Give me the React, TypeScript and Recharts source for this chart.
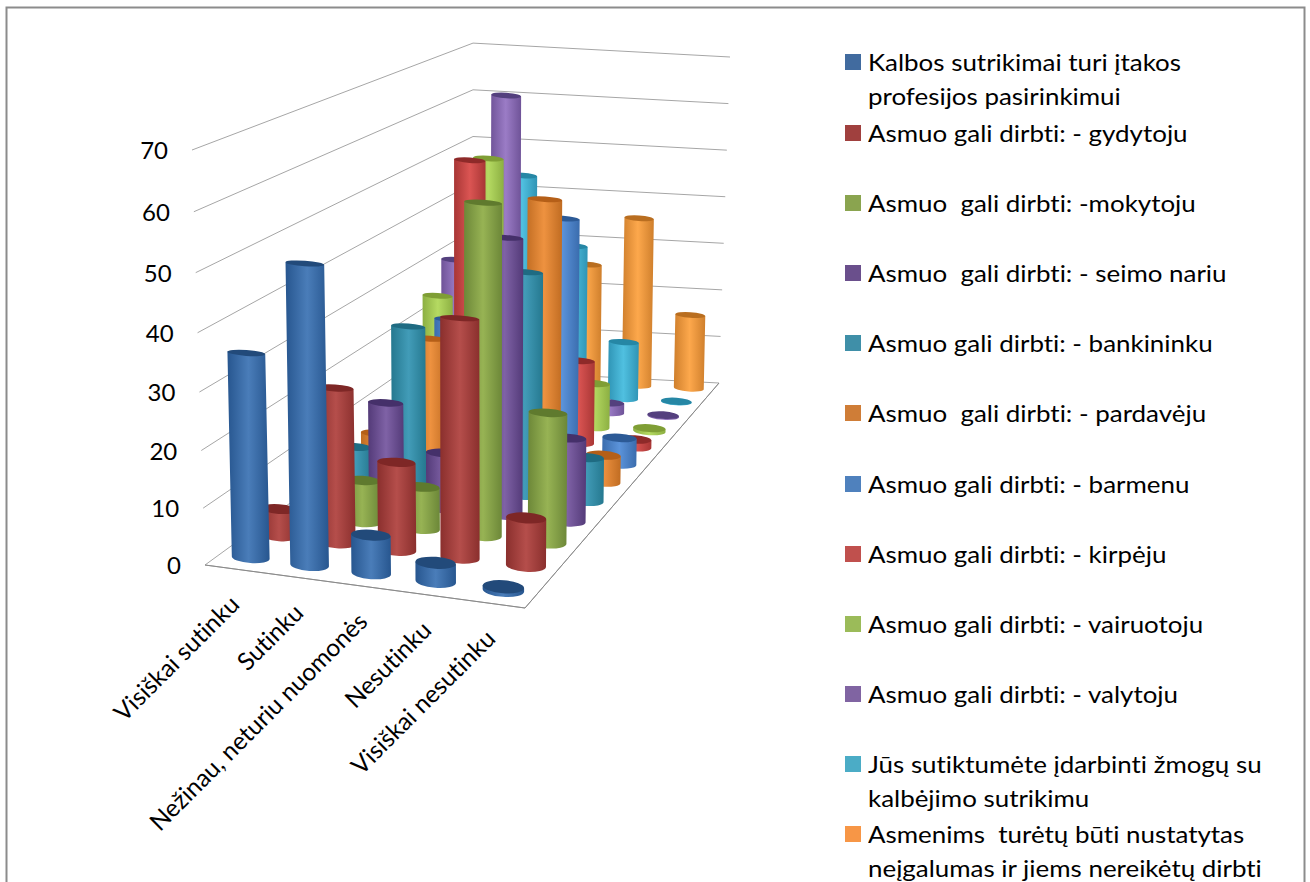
import React from 'react';
import { ComposedChart, Bar, XAxis, YAxis, Legend, Customized } from 'recharts';

const categories = ['Visiškai sutinku', 'Sutinku', 'Nežinau, neturiu nuomonės', 'Nesutinku', 'Visiškai nesutinku'];
const yTicks = [0, 10, 20, 30, 40, 50, 60, 70];

const kalbos = [35, 51.6, 6.5, 3.2, 0.6];
const gydytoju = [4.7, 27, 15.3, 41.7, 8.3];
const mokytoju = [1, 7.4, 7.4, 59, 23];
const seimoNariu = [8, 18, 10, 50, 15];
const bankininku = [5.9, 29, 15, 41, 8];
const pardaveju = [5.4, 24, 20, 52, 5];
const barmenu = [5, 25, 30, 46, 5];
const kirpeju = [6, 53.5, 30, 16, 1.5];
const vairuotoju = [24, 52, 25, 8.7, 0.6];
const valytoju = [29, 63, 20, 2, 0.2];
const sutiktumete = [15, 45, 31, 11.7, 0.1];
const neigalumas = [5, 15, 25, 35.4, 15.5];

const seriesValues = [kalbos, gydytoju, mokytoju, seimoNariu, bankininku, pardaveju, barmenu, kirpeju, vairuotoju, valytoju, sutiktumete, neigalumas];
const seriesNames = [
  ['Kalbos sutrikimai turi įtakos', 'profesijos pasirinkimui'],
  ['Asmuo gali dirbti: - gydytoju'],
  ['Asmuo  gali dirbti: -mokytoju'],
  ['Asmuo  gali dirbti: - seimo nariu'],
  ['Asmuo gali dirbti: - bankininku'],
  ['Asmuo  gali dirbti: - pardavėju'],
  ['Asmuo gali dirbti: - barmenu'],
  ['Asmuo gali dirbti: - kirpėju'],
  ['Asmuo gali dirbti: - vairuotoju'],
  ['Asmuo gali dirbti: - valytoju'],
  ['Jūs sutiktumėte įdarbinti žmogų su', 'kalbėjimo sutrikimu'],
  ['Asmenims  turėtų būti nustatytas', 'neįgalumas ir jiems nereikėtų dirbti'],
];
const legendTops = [62, 133, 203, 273, 343, 413, 484, 554, 624, 694, 764, 834];
const swatches = ['#416B9F', '#A0403E', '#8AA44F', '#6A4F8C', '#3F8FA8', '#CF7D37', '#4F81BD', '#C0504D', '#9BBB59', '#8064A2', '#4BACC6', '#F79646'];
const edges = ['#27568f', '#8a2f2d', '#6c8738', '#533a78', '#25788f', '#c06c22', '#3a6cad', '#a83635', '#8caf42', '#6f5398', '#2f94b5', '#cf7f2c'];
const centers = ['#4a7db9', '#b54e4b', '#97b354', '#7f62a6', '#429cb8', '#ee9240', '#5b93da', '#db5553', '#b5da62', '#9b7cc6', '#50c0e0', '#fda84c'];
const tops = ['#224a7a', '#7e2726', '#5f7a2e', '#45306a', '#1f6b82', '#b55f18', '#2c5a96', '#8e2a29', '#7f9e35', '#54407e', '#2687a5', '#b96e20'];

const chartData = categories.map((name, i) => {
  const row: Record<string, any> = { name };
  seriesValues.forEach((vals, j) => { row['s' + j] = vals[i]; });
  return row;
});

// floor quadrilateral homography (unit square to screen)
const G = -0.1109, H = 0.3868;
const project = (u: number, v: number) => {
  const w = G * u + H * v + 1;
  return { x: (261.8 * u + 451 * v + 205) / w + 2, y: (-24.4 * u - 51.9 * v + 565) / w, w };
};

const tickBow = (t: number) => (t * (70 - t)) / 1225 * 5;

const Cylinder = (j: number) => (props: any) => {
  const { index, height } = props;
  const u = (index + 0.5) / 5;
  const v = (j + 0.5) / 12;
  const b = project(u, v);
  const depth = (5.9 - 1.23 * v) / 5.93;
  const h = Math.max(0, height) * depth;
  const tiltX = ((b.x - 473) * 0.04 * h) / 415;
  const tx = b.x + tiltX;
  const ty = b.y - h;
  const r = 38 / b.w / 2;
  const ry = 5.5 / (b.w * b.w);
  const ryTop = Math.max(2.8, ry * (1 - h / 450));
  const d = r * 0.07;
  return (
    <g>
      <path
        d={`M${tx - r},${ty - d} L${b.x - r},${b.y - d} A${r},${ry} 4 0 0 ${b.x + r},${b.y + d} L${tx + r},${ty + d} Z`}
        fill={`url(#cyl${j})`}
      />
      <ellipse cx={tx} cy={ty} rx={r} ry={ryTop} fill={tops[j]} transform={`rotate(4 ${tx} ${ty})`} />
    </g>
  );
};

const Walls = () => {
  const lineColor = '#a6a6a6';
  return (
    <g>
      <rect x={6.5} y={7.5} width={1298} height={900} fill="#fff" stroke="#8c8c8c" strokeWidth={2} />
      <defs>
        {edges.map((e, j) => (
          <linearGradient key={j} id={`cyl${j}`} x1="0" y1="0" x2="1" y2="0">
            <stop offset="0%" stopColor={e} />
            <stop offset="50%" stopColor={centers[j]} />
            <stop offset="100%" stopColor={e} />
          </linearGradient>
        ))}
      </defs>
      <polygon points="205,565 525,608 719,383 473,370" fill="#fff" stroke={lineColor} strokeWidth={1} />
      <line x1={525} y1={608} x2={719} y2={383} stroke="#8a8a8a" />
      <line x1={205} y1={565} x2={525} y2={608} stroke="#8a8a8a" />
      {yTicks.filter((t) => t > 0).map((t) => {
        const yBack = 370 - 4.67 * t;
        return (
          <g key={t}>
            <line x1={205 - (13 * t) / 70} y1={565 - (415 * t) / 70 + tickBow(t)} x2={473} y2={yBack} stroke={lineColor} />
            <line x1={473} y1={yBack} x2={719 + 0.157 * t} y2={383 - 4.657 * t} stroke={lineColor} />
          </g>
        );
      })}
    </g>
  );
};

const noLig = { fontVariantLigatures: 'none' } as const;

const XTick = (props: any) => {
  const { x, payload, index } = props;
  const ax = x + 4;
  const ay = 606 + index * 8.6;
  return (
    <text x={ax} y={ay} textAnchor="end" fontFamily="Lato" fontSize={24.5} fill="#000" style={noLig} transform={`rotate(-45 ${ax} ${ay})`}>
      {payload.value}
    </text>
  );
};

const YTick = (props: any) => {
  const { y, payload } = props;
  const t = payload.value;
  return (
    <text x={181 - (13 * t) / 70} y={y + tickBow(t) + 9} textAnchor="end" fontFamily="Lato" fontSize={24} fill="#000" style={noLig}>
      {t}
    </text>
  );
};

const LegendBox = () => (
  <div style={{ position: 'absolute', left: 0, top: 0, width: 0, height: 0 }}>
    {seriesNames.map((lines, j) => (
      <div key={j}>
        <div style={{ position: 'absolute', left: 845, top: legendTops[j] - 8, width: 16, height: 16, background: swatches[j] }} />
        {lines.map((line, k) => (
          <div
            key={k}
            style={{
              position: 'absolute',
              left: 868,
              top: legendTops[j] + k * 33.5 - 16,
              height: 32,
              lineHeight: '32px',
              whiteSpace: 'pre',
              fontFamily: 'Lato',
              fontSize: 24,
              color: '#000',
              fontVariantLigatures: 'none',
              transform: 'scaleX(1.08)',
              transformOrigin: 'left center',
            }}
          >
            {line}
          </div>
        ))}
      </div>
    ))}
  </div>
);

export default function App() {
  const order = seriesValues.map((_, j) => seriesValues.length - 1 - j);
  return (
    <div style={{ position: 'absolute', left: 0, top: 0, width: 1310, height: 882, overflow: 'hidden', background: '#fff' }}>
      <ComposedChart
        width={1310}
        height={882}
        data={chartData}
        margin={{ top: 150, right: 785, bottom: 257, left: 145 }}
      >
        <Customized component={Walls} />
        <XAxis dataKey="name" height={60} axisLine={false} tickLine={false} tick={XTick} interval={0} />
        <YAxis width={60} domain={[0, 70]} ticks={yTicks} axisLine={false} tickLine={false} tick={YTick} interval={0} />
        {order.map((j) => (
          <Bar key={j} dataKey={'s' + j} name={seriesNames[j].join(' ')} isAnimationActive={false} shape={Cylinder(j)} />
        ))}
        <Legend content={LegendBox} wrapperStyle={{ position: 'absolute', left: 0, top: 0, width: 0, height: 0 }} />
      </ComposedChart>
    </div>
  );
}
